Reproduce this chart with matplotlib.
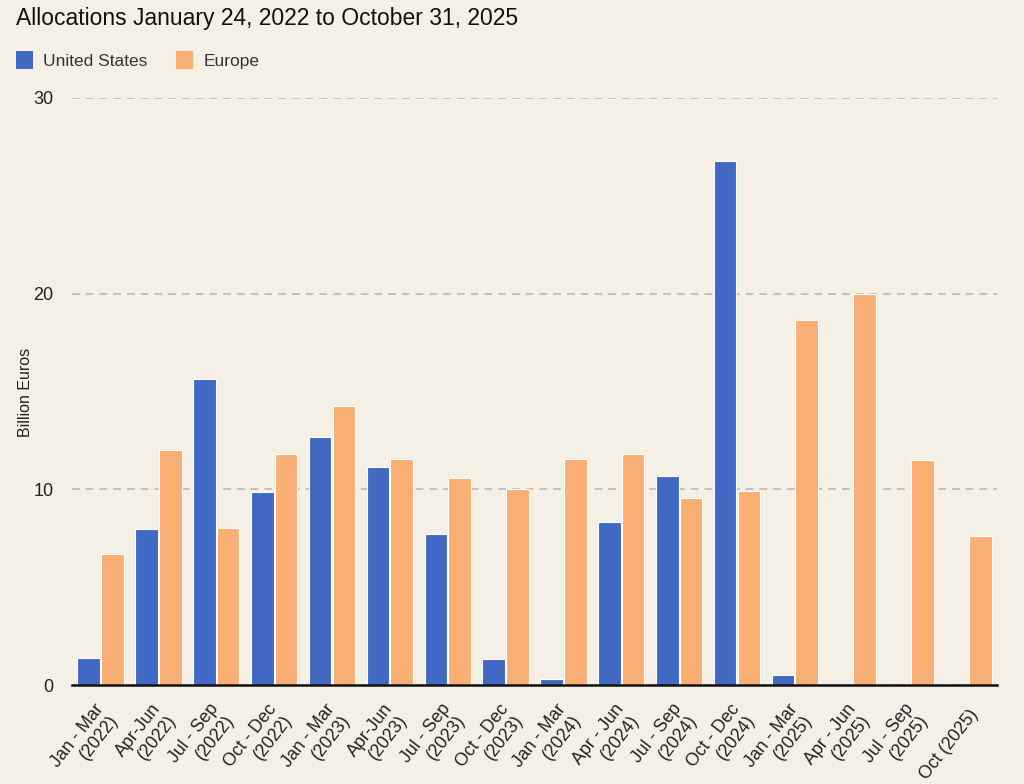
import numpy as np
import matplotlib.pyplot as plt
import matplotlib.transforms as mtransforms
from matplotlib.patches import Patch

plt.rcParams['font.family'] = ['Liberation Sans', 'DejaVu Sans']

quarters = ["Jan - Mar\n(2022)", "Apr-Jun\n(2022)", "Jul - Sep\n(2022)", "Oct - Dec\n(2022)",
            "Jan - Mar\n(2023)", "Apr-Jun\n(2023)", "Jul - Sep\n(2023)", "Oct - Dec\n(2023)",
            "Jan - Mar\n(2024)", "Apr - Jun\n(2024)", "Jul - Sep\n(2024)", "Oct - Dec\n(2024)",
            "Jan - Mar\n(2025)", "Apr - Jun\n(2025)", "Jul - Sep\n(2025)", "Oct (2025)"]
united_states = [1.4, 8.0, 15.65, 9.85, 12.7, 11.15, 7.7, 1.35, 0.3, 8.35, 10.7, 26.8, 0.5, 0, 0, 0]
europe = [6.7, 12.0, 8.05, 11.8, 14.25, 11.55, 10.6, 10.0, 11.55, 11.8, 9.55, 9.9, 18.65, 20.0, 11.5, 7.6]

bg = '#f5f0e6'
us_color = '#4169c4'
eu_color = '#f9ae74'

fig = plt.figure(figsize=(10.24, 7.84), dpi=100, facecolor=bg)
ax = fig.add_axes([0.070, 0.126, 0.904, 0.749], facecolor=bg)

x = np.arange(len(quarters))
w = 0.39
ax.bar(x - w / 2 - 0.01, united_states, w, color=us_color, edgecolor='#ffffff', linewidth=0.8, zorder=3)
ax.bar(x + w / 2 + 0.01, europe, w, color=eu_color, edgecolor='#ffffff', linewidth=0.8, zorder=3)

ax.set_xlim(-0.5, len(quarters) - 0.5)
ax.set_ylim(0, 30)
ax.set_yticks([0, 10, 20, 30])
ax.yaxis.grid(True, linestyle=(0, (5, 4)), color='#b5b5b5', linewidth=1.1, zorder=0)
for s in ['top', 'right', 'left']:
    ax.spines[s].set_visible(False)
ax.spines['bottom'].set_color('#111111')
ax.spines['bottom'].set_linewidth(1.8)
ax.spines['bottom'].set_zorder(4)
ax.tick_params(axis='y', length=0, labelsize=13, pad=13, colors='#222222')
ax.tick_params(axis='x', length=0, pad=19)
ax.set_xticks(x)
ax.set_xticklabels(quarters, rotation=52, ha='right', va='center', rotation_mode='anchor',
                   fontsize=12.8, color='#222222', linespacing=1.15)
shift = mtransforms.ScaledTranslation(7 / 100, 0, fig.dpi_scale_trans)
for lab in ax.get_xticklabels():
    lab.set_transform(lab.get_transform() + shift)

fig.text(0.025, 0.50, 'Billion Euros', rotation=90, fontsize=11.5, color='#222222',
         ha='center', va='center')

fig.text(0.016, 0.977, 'Allocations January 24, 2022 to October 31, 2025',
         fontsize=16.5, color='#111111', va='center')

handles = [Patch(facecolor=us_color, label='United States'),
           Patch(facecolor=eu_color, label='Europe')]
fig.legend(handles=handles, loc='center left', bbox_to_anchor=(0.0, 0.923), ncol=2,
           frameon=False, fontsize=12.5, handlelength=1.0, handleheight=1.2,
           handletextpad=0.6, columnspacing=1.6, labelcolor='#333333')

fig.savefig('out.png', dpi=100, facecolor=bg)
